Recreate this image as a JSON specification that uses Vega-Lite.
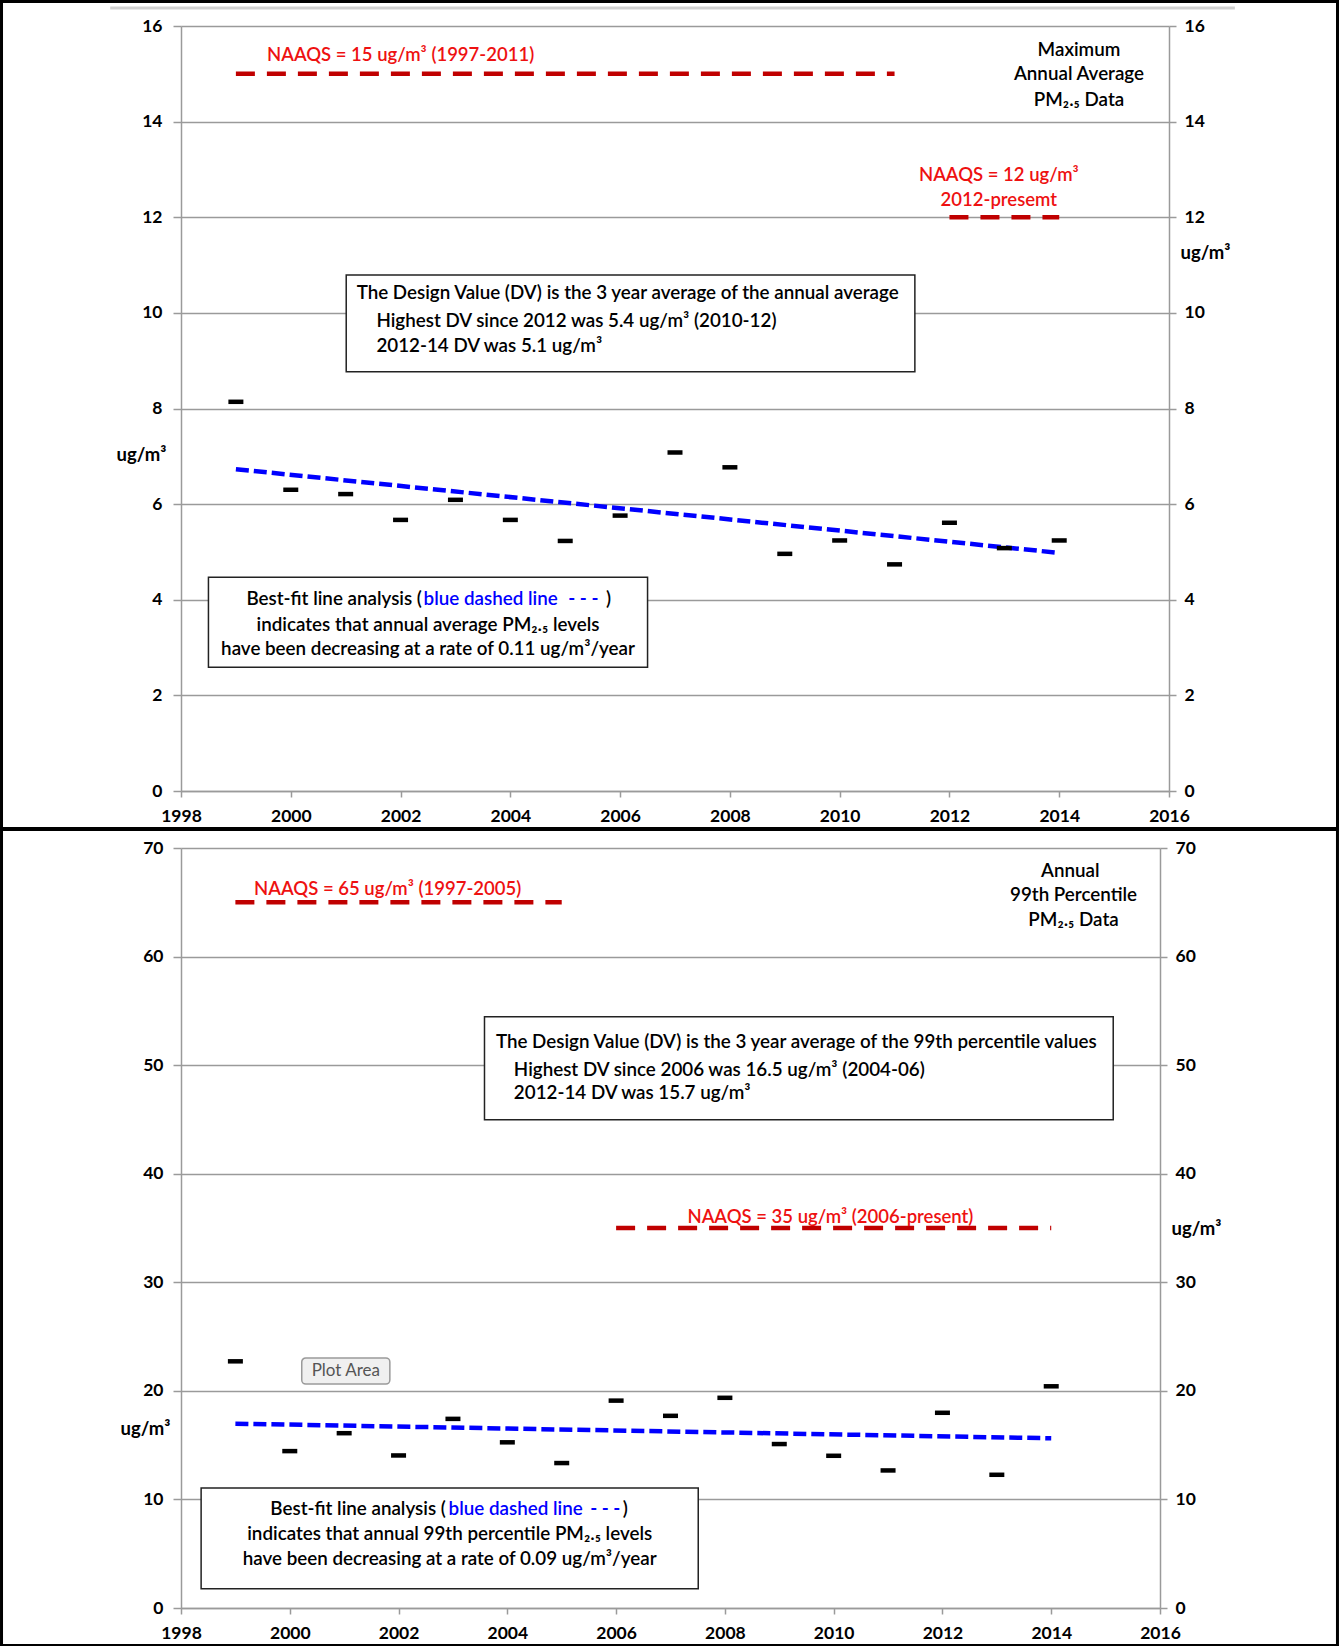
{
  "$schema": "https://vega.github.io/schema/vega-lite/v6.json",
  "background": "white",
  "padding": 0,
  "autosize": {"type": "pad"},
  "config": {"view": {"stroke": null}, "font": "Lato"},
  "spacing": -3,
  "vconcat": [
    {
      "width": 988,
      "height": 765,
      "resolve": {"axis": {"x": "independent", "y": "independent"}},
      "layer": [
        {
          "data": {"values": [{"x1": 1994.73, "x2": 2019.07, "y1": 16.512, "y2": -0.784}]},
          "mark": {"type": "rect", "filled": false, "color": "#000", "strokeWidth": 3, "clip": false},
          "encoding": {
            "x": {"field": "x1", "type": "quantitative", "scale": {"domain": [1998, 2016], "nice": false, "zero": false}, "axis": null},
            "x2": {"field": "x2"},
            "y": {"field": "y1", "type": "quantitative", "scale": {"domain": [0, 16], "nice": false, "zero": false}, "axis": null},
            "y2": {"field": "y2"}
          }
        },
        {
          "data": {"values": [{"x1": 1996.71, "x2": 2017.2, "y": 16.376}]},
          "mark": {"type": "rule", "color": "#cfcfcf", "strokeWidth": 3, "clip": false},
          "encoding": {
            "x": {"field": "x1", "type": "quantitative", "scale": {"domain": [1998, 2016], "nice": false, "zero": false}, "axis": null},
            "x2": {"field": "x2"},
            "y": {"field": "y", "type": "quantitative", "scale": {"domain": [0, 16], "nice": false, "zero": false}, "axis": null}
          }
        },
        {
          "data": {"values": [
            {"x1": 2001.01, "x2": 2011.37, "y1": 10.79, "y2": 8.77},
            {"x1": 1998.5, "x2": 2006.5, "y1": 4.47, "y2": 2.59}
          ]},
          "mark": {"type": "rect", "fill": "white", "stroke": "#222", "strokeWidth": 1.5},
          "encoding": {
            "x": {"field": "x1", "type": "quantitative", "scale": {"domain": [1998, 2016], "nice": false, "zero": false}, "axis": null},
            "x2": {"field": "x2"},
            "y": {"field": "y1", "type": "quantitative", "scale": {"domain": [0, 16], "nice": false, "zero": false}, "axis": null},
            "y2": {"field": "y2"}
          }
        },
        {
          "data": {"values": [
            {"start": 1999, "end": 2011, "naaqs": 15},
            {"start": 2012, "end": 2014, "naaqs": 12}
          ]},
          "mark": {"type": "rule", "color": "#c00000", "strokeWidth": 4.5, "strokeDash": [19, 12]},
          "encoding": {
            "x": {"field": "start", "type": "quantitative", "scale": {"domain": [1998, 2016], "nice": false, "zero": false}, "axis": null},
            "x2": {"field": "end"},
            "y": {"field": "naaqs", "type": "quantitative", "scale": {"domain": [0, 16], "nice": false, "zero": false}, "axis": null}
          }
        },
        {
          "data": {"values": [{"year": 1999, "fit": 6.73}, {"year": 2014, "fit": 4.98}]},
          "mark": {"type": "line", "color": "#0000ff", "strokeWidth": 4.5, "strokeDash": [13, 5]},
          "encoding": {
            "x": {"field": "year", "type": "quantitative", "scale": {"domain": [1998, 2016], "nice": false, "zero": false}, "axis": null},
            "y": {"field": "fit", "type": "quantitative", "scale": {"domain": [0, 16], "nice": false, "zero": false},
              "axis": {"orient": "right", "values": [0, 2, 4, 6, 8, 10, 12, 14, 16], "grid": false,
                "domainColor": "#9a9a9a", "domainWidth": 1.5, "tickColor": "#9a9a9a", "tickWidth": 1.5, "tickSize": 7, "labelPadding": 8,
                "labelFont": "Lato", "labelFontSize": 17.5, "labelFontWeight": "bold", "labelColor": "#000",
                "title": "ug/m³", "titleAngle": 0, "titleX": 36, "titleY": 226, "titleAlign": "center", "titleBaseline": "middle",
                "titleFont": "Lato", "titleFontSize": 18.5, "titleFontWeight": "bold", "titleColor": "#000"}}
          }
        },
        {
          "data": {"values": [
            {"year": 1999, "pm": 8.14}, {"year": 2000, "pm": 6.3}, {"year": 2001, "pm": 6.21},
            {"year": 2002, "pm": 5.67}, {"year": 2003, "pm": 6.09}, {"year": 2004, "pm": 5.67},
            {"year": 2005, "pm": 5.23}, {"year": 2006, "pm": 5.76}, {"year": 2007, "pm": 7.08},
            {"year": 2008, "pm": 6.77}, {"year": 2009, "pm": 4.96}, {"year": 2010, "pm": 5.24},
            {"year": 2011, "pm": 4.74}, {"year": 2012, "pm": 5.61}, {"year": 2013, "pm": 5.08},
            {"year": 2014, "pm": 5.24}
          ]},
          "mark": {"type": "point", "shape": "M-1,-0.3H1V0.3H-1Z", "size": 225, "filled": true, "color": "#000", "opacity": 1},
          "encoding": {
            "x": {"field": "year", "type": "quantitative", "scale": {"domain": [1998, 2016], "nice": false, "zero": false},
              "axis": {"orient": "bottom", "values": [1998, 2000, 2002, 2004, 2006, 2008, 2010, 2012, 2014, 2016], "format": "d", "grid": false,
                "domainColor": "#9a9a9a", "domainWidth": 1.5, "tickColor": "#9a9a9a", "tickWidth": 1.5, "tickSize": 6, "labelPadding": 10,
                "labelFlush": false, "labelOverlap": false, "labelFont": "Lato", "labelFontSize": 17.5, "labelFontWeight": "bold", "labelColor": "#000", "title": null}},
            "y": {"field": "pm", "type": "quantitative", "scale": {"domain": [0, 16], "nice": false, "zero": false},
              "axis": {"orient": "left", "values": [0, 2, 4, 6, 8, 10, 12, 14, 16], "grid": true, "gridColor": "#9a9a9a", "gridWidth": 1.5,
                "domainColor": "#9a9a9a", "domainWidth": 1.5, "tickColor": "#9a9a9a", "tickWidth": 1.5, "tickSize": 8, "labelPadding": 11,
                "labelFont": "Lato", "labelFontSize": 17.5, "labelFontWeight": "bold", "labelColor": "#000",
                "title": "ug/m³", "titleAngle": 0, "titleX": -40, "titleY": 428, "titleAlign": "center", "titleBaseline": "middle",
                "titleFont": "Lato", "titleFontSize": 18.5, "titleFontWeight": "bold", "titleColor": "#000"}}
          }
        },
        {
          "data": {"values": [
            {"tx": 2002.0, "ty": 15.4, "label": "NAAQS = 15 ug/m³ (1997-2011)"},
            {"tx": 2012.9, "ty": 12.88, "label": "NAAQS = 12 ug/m³"},
            {"tx": 2012.9, "ty": 12.37, "label": "2012-presemt"}
          ]},
          "mark": {"type": "text", "align": "center", "baseline": "middle", "font": "Lato", "fontSize": 18.5, "fontWeight": 600, "color": "#ee1111"},
          "encoding": {
            "x": {"field": "tx", "type": "quantitative", "scale": {"domain": [1998, 2016], "nice": false, "zero": false}, "axis": null},
            "y": {"field": "ty", "type": "quantitative", "scale": {"domain": [0, 16], "nice": false, "zero": false}, "axis": null},
            "text": {"field": "label"}
          }
        },
        {
          "data": {"values": [
            {"tx": 2014.36, "ty": 15.49, "label": "Maximum"},
            {"tx": 2014.36, "ty": 14.99, "label": "Annual Average"},
            {"tx": 2014.36, "ty": 14.46, "label": "PM₂.₅ Data"},
            {"tx": 2002.5, "ty": 3.48, "label": "indicates  that  annual  average  PM₂.₅ levels"},
            {"tx": 2002.5, "ty": 2.96, "label": "have been decreasing  at a rate of 0.11 ug/m³/year"},
            {"tx": 2005.79, "ty": 4.01, "label": ")"}
          ]},
          "mark": {"type": "text", "align": "center", "baseline": "middle", "font": "Lato", "fontSize": 18.8, "fontWeight": 600, "color": "#000"},
          "encoding": {
            "x": {"field": "tx", "type": "quantitative", "scale": {"domain": [1998, 2016], "nice": false, "zero": false}, "axis": null},
            "y": {"field": "ty", "type": "quantitative", "scale": {"domain": [0, 16], "nice": false, "zero": false}, "axis": null},
            "text": {"field": "label"}
          }
        },
        {
          "data": {"values": [
            {"tx": 2001.2, "ty": 10.42, "label": "The Design Value (DV) is the 3 year average of the annual average"},
            {"tx": 2001.56, "ty": 9.83, "label": "Highest  DV since  2012 was 5.4 ug/m³ (2010-12)"},
            {"tx": 2001.56, "ty": 9.3, "label": "2012-14 DV was 5.1 ug/m³"}
          ]},
          "mark": {"type": "text", "align": "left", "baseline": "middle", "font": "Lato", "fontSize": 18.8, "fontWeight": 600, "color": "#000"},
          "encoding": {
            "x": {"field": "tx", "type": "quantitative", "scale": {"domain": [1998, 2016], "nice": false, "zero": false}, "axis": null},
            "y": {"field": "ty", "type": "quantitative", "scale": {"domain": [0, 16], "nice": false, "zero": false}, "axis": null},
            "text": {"field": "label"}
          }
        },
        {
          "data": {"values": [{"tx": 2002.39, "ty": 4.01, "label": "Best-fit line analysis ("}]},
          "mark": {"type": "text", "align": "right", "baseline": "middle", "font": "Lato", "fontSize": 18.8, "fontWeight": 600, "color": "#000"},
          "encoding": {
            "x": {"field": "tx", "type": "quantitative", "scale": {"domain": [1998, 2016], "nice": false, "zero": false}, "axis": null},
            "y": {"field": "ty", "type": "quantitative", "scale": {"domain": [0, 16], "nice": false, "zero": false}, "axis": null},
            "text": {"field": "label"}
          }
        },
        {
          "data": {"values": [{"tx": 2002.42, "ty": 4.01, "label": "blue dashed line"}]},
          "mark": {"type": "text", "align": "left", "baseline": "middle", "font": "Lato", "fontSize": 18.8, "fontWeight": 600, "color": "#0000ff"},
          "encoding": {
            "x": {"field": "tx", "type": "quantitative", "scale": {"domain": [1998, 2016], "nice": false, "zero": false}, "axis": null},
            "y": {"field": "ty", "type": "quantitative", "scale": {"domain": [0, 16], "nice": false, "zero": false}, "axis": null},
            "text": {"field": "label"}
          }
        },
        {
          "data": {"values": [{"tx": 2005.33, "ty": 4.01, "label": "- - -"}]},
          "mark": {"type": "text", "align": "center", "baseline": "middle", "font": "Lato", "fontSize": 18.8, "fontWeight": "bold", "color": "#0000ff"},
          "encoding": {
            "x": {"field": "tx", "type": "quantitative", "scale": {"domain": [1998, 2016], "nice": false, "zero": false}, "axis": null},
            "y": {"field": "ty", "type": "quantitative", "scale": {"domain": [0, 16], "nice": false, "zero": false}, "axis": null},
            "text": {"field": "label"}
          }
        }
      ]
    },
    {
      "width": 979,
      "height": 760,
      "resolve": {"axis": {"x": "independent", "y": "independent"}},
      "layer": [
        {
          "data": {"values": [{"x1": 1994.7, "x2": 2019.263, "y1": 71.705, "y2": -3.454}]},
          "mark": {"type": "rect", "filled": false, "color": "#000", "strokeWidth": 3, "clip": false},
          "encoding": {
            "x": {"field": "x1", "type": "quantitative", "scale": {"domain": [1998, 2016], "nice": false, "zero": false}, "axis": null},
            "x2": {"field": "x2"},
            "y": {"field": "y1", "type": "quantitative", "scale": {"domain": [0, 70], "nice": false, "zero": false}, "axis": null},
            "y2": {"field": "y2"}
          }
        },
        {
          "data": {"values": [
            {"x1": 2003.58, "x2": 2015.14, "y1": 54.45, "y2": 44.98},
            {"x1": 1998.37, "x2": 2007.51, "y1": 11.05, "y2": 1.78}
          ]},
          "mark": {"type": "rect", "fill": "white", "stroke": "#222", "strokeWidth": 1.5},
          "encoding": {
            "x": {"field": "x1", "type": "quantitative", "scale": {"domain": [1998, 2016], "nice": false, "zero": false}, "axis": null},
            "x2": {"field": "x2"},
            "y": {"field": "y1", "type": "quantitative", "scale": {"domain": [0, 70], "nice": false, "zero": false}, "axis": null},
            "y2": {"field": "y2"}
          }
        },
        {
          "data": {"values": [{"x1": 2000.22, "x2": 2001.84, "y1": 23.03, "y2": 20.63}]},
          "mark": {"type": "rect", "fill": "#f0f0f0", "stroke": "#9a9a9a", "strokeWidth": 1.5, "cornerRadius": 4},
          "encoding": {
            "x": {"field": "x1", "type": "quantitative", "scale": {"domain": [1998, 2016], "nice": false, "zero": false}, "axis": null},
            "x2": {"field": "x2"},
            "y": {"field": "y1", "type": "quantitative", "scale": {"domain": [0, 70], "nice": false, "zero": false}, "axis": null},
            "y2": {"field": "y2"}
          }
        },
        {
          "data": {"values": [{"tx": 2001.03, "ty": 21.83, "label": "Plot Area"}]},
          "mark": {"type": "text", "align": "center", "baseline": "middle", "font": "Lato", "fontSize": 17, "color": "#555"},
          "encoding": {
            "x": {"field": "tx", "type": "quantitative", "scale": {"domain": [1998, 2016], "nice": false, "zero": false}, "axis": null},
            "y": {"field": "ty", "type": "quantitative", "scale": {"domain": [0, 70], "nice": false, "zero": false}, "axis": null},
            "text": {"field": "label"}
          }
        },
        {
          "data": {"values": [
            {"start": 1999, "end": 2005, "naaqs": 65},
            {"start": 2006, "end": 2014, "naaqs": 35}
          ]},
          "mark": {"type": "rule", "color": "#c00000", "strokeWidth": 4.5, "strokeDash": [19, 12]},
          "encoding": {
            "x": {"field": "start", "type": "quantitative", "scale": {"domain": [1998, 2016], "nice": false, "zero": false}, "axis": null},
            "x2": {"field": "end"},
            "y": {"field": "naaqs", "type": "quantitative", "scale": {"domain": [0, 70], "nice": false, "zero": false}, "axis": null}
          }
        },
        {
          "data": {"values": [{"year": 1999, "fit": 16.98}, {"year": 2014, "fit": 15.63}]},
          "mark": {"type": "line", "color": "#0000ff", "strokeWidth": 4.5, "strokeDash": [13, 5]},
          "encoding": {
            "x": {"field": "year", "type": "quantitative", "scale": {"domain": [1998, 2016], "nice": false, "zero": false}, "axis": null},
            "y": {"field": "fit", "type": "quantitative", "scale": {"domain": [0, 70], "nice": false, "zero": false},
              "axis": {"orient": "right", "values": [0, 10, 20, 30, 40, 50, 60, 70], "grid": false,
                "domainColor": "#9a9a9a", "domainWidth": 1.5, "tickColor": "#9a9a9a", "tickWidth": 1.5, "tickSize": 7, "labelPadding": 8,
                "labelFont": "Lato", "labelFontSize": 17.5, "labelFontWeight": "bold", "labelColor": "#000",
                "title": "ug/m³", "titleAngle": 0, "titleX": 36, "titleY": 380, "titleAlign": "center", "titleBaseline": "middle",
                "titleFont": "Lato", "titleFontSize": 18.5, "titleFontWeight": "bold", "titleColor": "#000"}}
          }
        },
        {
          "data": {"values": [
            {"year": 1999, "pm": 22.72}, {"year": 2000, "pm": 14.45}, {"year": 2001, "pm": 16.1},
            {"year": 2002, "pm": 14.05}, {"year": 2003, "pm": 17.42}, {"year": 2004, "pm": 15.26},
            {"year": 2005, "pm": 13.35}, {"year": 2006, "pm": 19.1}, {"year": 2007, "pm": 17.7},
            {"year": 2008, "pm": 19.36}, {"year": 2009, "pm": 15.1}, {"year": 2010, "pm": 14.02},
            {"year": 2011, "pm": 12.67}, {"year": 2012, "pm": 17.98}, {"year": 2013, "pm": 12.27},
            {"year": 2014, "pm": 20.42}
          ]},
          "mark": {"type": "point", "shape": "M-1,-0.3H1V0.3H-1Z", "size": 225, "filled": true, "color": "#000", "opacity": 1},
          "encoding": {
            "x": {"field": "year", "type": "quantitative", "scale": {"domain": [1998, 2016], "nice": false, "zero": false},
              "axis": {"orient": "bottom", "values": [1998, 2000, 2002, 2004, 2006, 2008, 2010, 2012, 2014, 2016], "format": "d", "grid": false,
                "domainColor": "#9a9a9a", "domainWidth": 1.5, "tickColor": "#9a9a9a", "tickWidth": 1.5, "tickSize": 6, "labelPadding": 10,
                "labelFlush": false, "labelOverlap": false, "labelFont": "Lato", "labelFontSize": 17.5, "labelFontWeight": "bold", "labelColor": "#000", "title": null}},
            "y": {"field": "pm", "type": "quantitative", "scale": {"domain": [0, 70], "nice": false, "zero": false},
              "axis": {"orient": "left", "values": [0, 10, 20, 30, 40, 50, 60, 70], "grid": true, "gridColor": "#9a9a9a", "gridWidth": 1.5,
                "domainColor": "#9a9a9a", "domainWidth": 1.5, "tickColor": "#9a9a9a", "tickWidth": 1.5, "tickSize": 8, "labelPadding": 10,
                "labelFont": "Lato", "labelFontSize": 17.5, "labelFontWeight": "bold", "labelColor": "#000",
                "title": "ug/m³", "titleAngle": 0, "titleX": -36, "titleY": 580, "titleAlign": "center", "titleBaseline": "middle",
                "titleFont": "Lato", "titleFontSize": 18.5, "titleFontWeight": "bold", "titleColor": "#000"}}
          }
        },
        {
          "data": {"values": [
            {"tx": 2001.8, "ty": 66.24, "label": "NAAQS = 65 ug/m³ (1997-2005)"},
            {"tx": 2009.94, "ty": 36.0, "label": "NAAQS = 35 ug/m³ (2006-present)"}
          ]},
          "mark": {"type": "text", "align": "center", "baseline": "middle", "font": "Lato", "fontSize": 18.5, "fontWeight": 600, "color": "#ee1111"},
          "encoding": {
            "x": {"field": "tx", "type": "quantitative", "scale": {"domain": [1998, 2016], "nice": false, "zero": false}, "axis": null},
            "y": {"field": "ty", "type": "quantitative", "scale": {"domain": [0, 70], "nice": false, "zero": false}, "axis": null},
            "text": {"field": "label"}
          }
        },
        {
          "data": {"values": [
            {"tx": 2014.35, "ty": 67.88, "label": "Annual"},
            {"tx": 2014.41, "ty": 65.66, "label": "99th Percentile"},
            {"tx": 2014.41, "ty": 63.34, "label": "PM₂.₅ Data"},
            {"tx": 2002.94, "ty": 6.8, "label": "indicates  that  annual  99th percentile  PM₂.₅ levels"},
            {"tx": 2002.94, "ty": 4.48, "label": "have been decreasing  at a rate of 0.09 ug/m³/year"},
            {"tx": 2006.17, "ty": 9.12, "label": ")"}
          ]},
          "mark": {"type": "text", "align": "center", "baseline": "middle", "font": "Lato", "fontSize": 18.8, "fontWeight": 600, "color": "#000"},
          "encoding": {
            "x": {"field": "tx", "type": "quantitative", "scale": {"domain": [1998, 2016], "nice": false, "zero": false}, "axis": null},
            "y": {"field": "ty", "type": "quantitative", "scale": {"domain": [0, 70], "nice": false, "zero": false}, "axis": null},
            "text": {"field": "label"}
          }
        },
        {
          "data": {"values": [
            {"tx": 2003.79, "ty": 52.13, "label": "The Design Value  (DV) is  the 3 year average of the 99th percentile values"},
            {"tx": 2004.12, "ty": 49.53, "label": "Highest  DV since  2006 was 16.5 ug/m³ (2004-06)"},
            {"tx": 2004.12, "ty": 47.4, "label": "2012-14 DV  was 15.7 ug/m³"}
          ]},
          "mark": {"type": "text", "align": "left", "baseline": "middle", "font": "Lato", "fontSize": 18.8, "fontWeight": 600, "color": "#000"},
          "encoding": {
            "x": {"field": "tx", "type": "quantitative", "scale": {"domain": [1998, 2016], "nice": false, "zero": false}, "axis": null},
            "y": {"field": "ty", "type": "quantitative", "scale": {"domain": [0, 70], "nice": false, "zero": false}, "axis": null},
            "text": {"field": "label"}
          }
        },
        {
          "data": {"values": [{"tx": 2002.87, "ty": 9.12, "label": "Best-fit line analysis  ("}]},
          "mark": {"type": "text", "align": "right", "baseline": "middle", "font": "Lato", "fontSize": 18.8, "fontWeight": 600, "color": "#000"},
          "encoding": {
            "x": {"field": "tx", "type": "quantitative", "scale": {"domain": [1998, 2016], "nice": false, "zero": false}, "axis": null},
            "y": {"field": "ty", "type": "quantitative", "scale": {"domain": [0, 70], "nice": false, "zero": false}, "axis": null},
            "text": {"field": "label"}
          }
        },
        {
          "data": {"values": [{"tx": 2002.92, "ty": 9.12, "label": "blue dashed line"}]},
          "mark": {"type": "text", "align": "left", "baseline": "middle", "font": "Lato", "fontSize": 18.8, "fontWeight": 600, "color": "#0000ff"},
          "encoding": {
            "x": {"field": "tx", "type": "quantitative", "scale": {"domain": [1998, 2016], "nice": false, "zero": false}, "axis": null},
            "y": {"field": "ty", "type": "quantitative", "scale": {"domain": [0, 70], "nice": false, "zero": false}, "axis": null},
            "text": {"field": "label"}
          }
        },
        {
          "data": {"values": [{"tx": 2005.8, "ty": 9.12, "label": "- - -"}]},
          "mark": {"type": "text", "align": "center", "baseline": "middle", "font": "Lato", "fontSize": 18.8, "fontWeight": "bold", "color": "#0000ff"},
          "encoding": {
            "x": {"field": "tx", "type": "quantitative", "scale": {"domain": [1998, 2016], "nice": false, "zero": false}, "axis": null},
            "y": {"field": "ty", "type": "quantitative", "scale": {"domain": [0, 70], "nice": false, "zero": false}, "axis": null},
            "text": {"field": "label"}
          }
        }
      ]
    }
  ]
}
